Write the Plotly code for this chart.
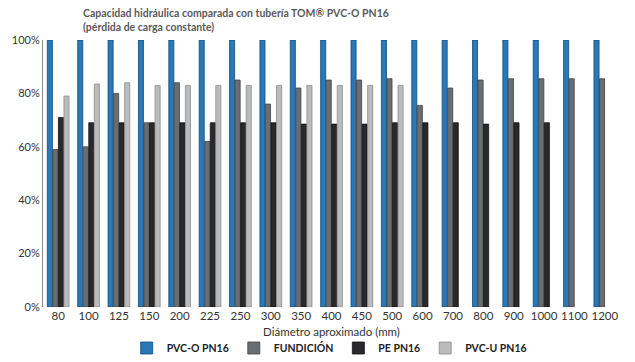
import plotly.graph_objects as go

categories = ["80", "100", "125", "150", "200", "225", "250", "300", "350", "400",
              "450", "500", "600", "700", "800", "900", "1000", "1100", "1200"]
pvco = [100] * 19
fundicion = [59, 60, 80, 69, 84, 62, 85, 76, 82, 85, 85, 85.5, 75.5, 82, 85, 85.5, 85.5, 85.5, 85.5]
pe = [71, 69, 69, 69, 69, 69, 69, 69, 68.5, 68.5, 68.5, 69, 69, 69, 68.5, 69, 69, None, None]
pvcu = [79, 83.5, 84, 83, 83, 83, 83, 83, 83, 83, 83, 83, None, None, None, None, None, None, None]
yticks = [0, 20, 40, 60, 80, 100]
ytick_text = ["0%", "20%", "40%", "60%", "80%", "100%"]

series = [
    ("PVC-O PN16", pvco, "#2a78b8", "#0f4d7a"),
    ("FUNDICIÓN", fundicion, "#6a6e71", "#3f4245"),
    ("PE PN16", pe, "#2a2a2c", "#111111"),
    ("PVC-U PN16", pvcu, "#b9bbbd", "#8a8c8e"),
]

fig = go.Figure()
for name, vals, col, line in series:
    fig.add_trace(go.Bar(
        x=categories, y=vals, name=name,
        marker=dict(color=col, line=dict(color=line, width=0.8)),
    ))

font_family = "Lato, 'Open Sans', sans-serif"
plot_top, plot_bottom = 40, 307
ph = plot_bottom - plot_top


def py(pixel_y):
    return (plot_bottom - pixel_y) / ph


fig.update_layout(
    width=635, height=362,
    margin=dict(l=43, r=15, t=plot_top, b=362 - plot_bottom, autoexpand=False),
    paper_bgcolor="white", plot_bgcolor="white",
    barmode="group", bargap=0.27, bargroupgap=0.08,
    font=dict(family=font_family, size=11, color="#444444"),
    xaxis=dict(
        showline=False, ticks="", showgrid=False,
        tickfont=dict(size=11.5, color="#333333"),
        title=dict(text="Diámetro aproximado (mm)", standoff=7,
                   font=dict(size=11.5, color="#333333")),
    ),
    yaxis=dict(
        range=[0, 100], tickvals=yticks, ticktext=ytick_text,
        showline=True, linecolor="#8a8a8a", linewidth=1,
        showgrid=False, zeroline=False, ticks="",
        tickfont=dict(size=11, color="#333333"),
    ),
    legend=dict(
        orientation="h", x=0.496, xanchor="center", y=py(348), yanchor="middle",
        font=dict(size=10.5, color="#222222", family=font_family, weight="bold"),
        itemwidth=30, traceorder="normal", tracegroupgap=0,
    ),
    annotations=[dict(
        text="<b>Capacidad hidráulica comparada con tubería TOM® PVC-O PN16<br>(pérdida de carga constante)</b>",
        xref="paper", yref="paper", x=(81 - 43) / 577, y=py(5), xanchor="left", yanchor="top",
        align="left", showarrow=False,
        font=dict(size=10.5, color="#5a5a5a", family=font_family),
    )],
)
fig.write_html("out.html", config={"displayModeBar": False},
               post_script="document.body.style.margin='0';")
